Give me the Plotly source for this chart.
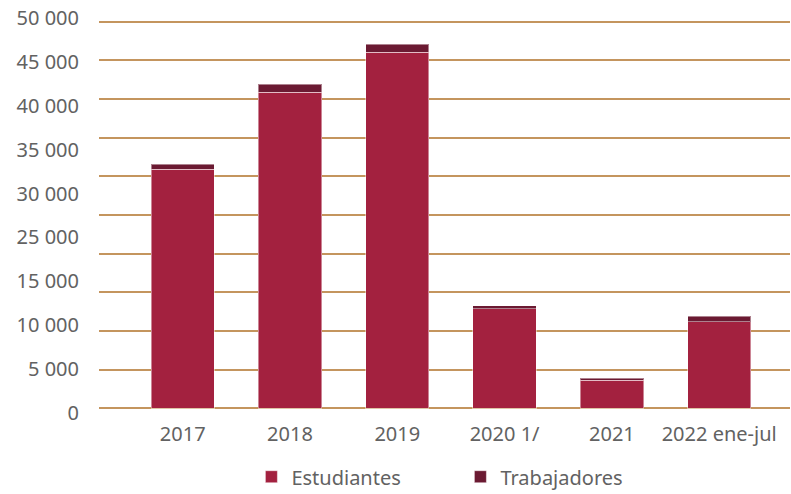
import plotly.graph_objects as go

YEARS = ["2017", "2018", "2019", "2020 1/", "2021", "2022 ene-jul"]
ESTUDIANTES = [30900, 40850, 46050, 12900, 3600, 11200]
TRABAJADORES = [650, 1080, 1030, 330, 300, 700]

# y labels as printed in the source (no "20 000")
Y_LABELS = ["0", "5 000", "10 000", "15 000", "25 000", "30 000",
            "35 000", "40 000", "45 000", "50 000"]

RED = "#A3213F"
WINE = "#6B1A32"
GRID = "#C4955E"
TEXT = "#626262"
FONT = "Noto Sans, sans-serif"

fig = go.Figure()
fig.add_trace(go.Bar(
    x=YEARS, y=ESTUDIANTES, name="Estudiantes",
    marker=dict(color=RED, line=dict(color="rgba(255,255,255,0.45)", width=1)),
))
fig.add_trace(go.Bar(
    x=YEARS, y=TRABAJADORES, name="Trabajadores",
    marker=dict(color=WINE, line=dict(color="rgba(255,255,255,0.45)", width=1)),
))
# invisible carrier for the left-hand labels
fig.add_trace(go.Scatter(
    x=[YEARS[0]], y=[0], yaxis="y2", mode="markers",
    marker=dict(opacity=0), showlegend=False, hoverinfo="skip",
))

fig.update_layout(
    barmode="stack",
    bargap=0.41,
    width=791,
    height=494,
    paper_bgcolor="white",
    plot_bgcolor="white",
    margin=dict(l=99, r=1, t=14, b=78, autoexpand=False),
    font=dict(family=FONT, size=20, color=TEXT),
    legend=dict(orientation="h", x=0.523, xanchor="center", y=-0.1025, yanchor="top",
                font=dict(size=20, color=TEXT), traceorder="normal", entrywidth=164),
    xaxis=dict(range=[-0.78, 5.66], showgrid=False, zeroline=False, showline=False,
               ticks="", ticklabelstandoff=4, automargin=False,
               tickfont=dict(size=20, color=TEXT)),
    yaxis=dict(range=[-1000, 51000], dtick=5000, tick0=0, showgrid=True,
               gridcolor=GRID, gridwidth=2, zeroline=False, showticklabels=False,
               automargin=False),
    yaxis2=dict(overlaying="y", side="left", range=[-0.068, 9.09],
                tickvals=list(range(len(Y_LABELS))), ticktext=Y_LABELS,
                showgrid=False, zeroline=False, ticks="", ticklabelstandoff=19,
                automargin=False, tickfont=dict(size=20, color=TEXT)),
)

# page body has a default 8px margin; drop it so the figure fills the window
fig.write_html(
    "out.html",
    config={"displayModeBar": False},
    post_script="document.body.style.margin='0';",
)
